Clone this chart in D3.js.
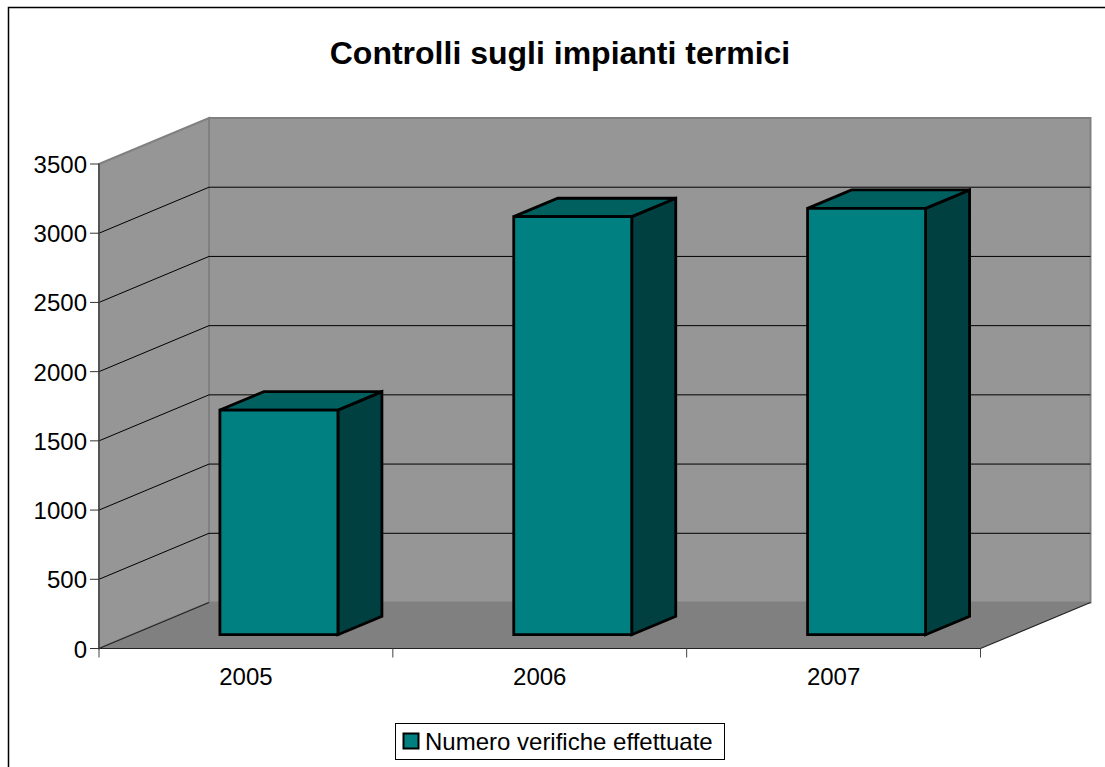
<!DOCTYPE html>
<html><head><meta charset="utf-8">
<script src="https://cdn.jsdelivr.net/npm/d3@7"></script>
<style>html,body{margin:0;padding:0;background:#fff}svg{display:block}text{font-family:"Liberation Sans",Arial,sans-serif;fill:#000}</style>
</head><body><div id="chart"></div>
<script>
const chartTitle = "Controlli sugli impianti termici";
const categories = ["2005", "2006", "2007"];
const seriesName = "Numero verifiche effettuate";
const seriesValues = [1623, 3020, 3080];
const yTicks = [0, 500, 1000, 1500, 2000, 2500, 3000, 3500];

const W = 1105, H = 767;
const svg = d3.select("#chart").append("svg").attr("width", W).attr("height", H);
const x = d3.scaleBand().domain(categories).range([99, 980.5]);
const y = d3.scaleLinear().domain([0, 3500]).range([648.5, 164]);
// depth 0 = front plane, 1 = back wall
const dx = d3.scaleLinear().domain([0, 1]).range([0, 110]);
const dy = d3.scaleLinear().domain([0, 1]).range([0, -46]);
const P = (xv, v, d) => [xv + dx(d), y(v) + dy(d)];
const poly = pts => d3.line()(pts) + "Z";
const xMin = x.range()[0], xMax = x.range()[1], yMax = 3500;

// frame: open at the bottom, cut by the page edge
svg.append("path").attr("d", "M8.5 " + (H + 5) + "V7.5H" + (W + 5)).attr("fill", "none").attr("stroke", "#000").attr("stroke-width", 1.5);

// walls and floor
const g = svg.append("g");
g.append("path").attr("d", poly([P(xMin,0,0),P(xMin,yMax,0),P(xMin,yMax,1),P(xMin,0,1)])).attr("fill", "#969696").attr("stroke", "#808080").attr("stroke-width", 2);
g.append("path").attr("d", poly([P(xMin,0,1),P(xMin,yMax,1),P(xMax,yMax,1),P(xMax,0,1)])).attr("fill", "#969696").attr("stroke", "#808080").attr("stroke-width", 2);
g.append("path").attr("d", poly([P(xMin,0,0),P(xMin,0,1),P(xMax,0,1),P(xMax,0,0)])).attr("fill", "#808080");

// gridlines
yTicks.slice(1, -1).forEach(t => {
  g.append("path").attr("d", d3.line()([P(xMin,t,0),P(xMin,t,1),P(xMax,t,1)])).attr("fill", "none").attr("stroke", "#000").attr("stroke-width", 1);
});

// axes
g.append("path").attr("d", d3.line()([P(xMin,0,1),P(xMin,0,0),P(xMax,0,0),P(xMax,0,1)])).attr("fill","none").attr("stroke","#222").attr("stroke-width",1.2);
g.append("line").attr("x1",xMin).attr("x2",xMin).attr("y1",y(0)).attr("y2",y(yMax)).attr("stroke","#444").attr("stroke-width",1.5);
yTicks.forEach(t => {
  g.append("line").attr("x1", xMin-9).attr("x2", xMin).attr("y1", y(t)).attr("y2", y(t)).attr("stroke", "#333");
  g.append("text").attr("x", xMin-12).attr("y", y(t)+9).attr("text-anchor","end").attr("font-size",24).text(t);
});
const catEdges = categories.map(c => x(c)).concat([xMax]);
catEdges.forEach(e => g.append("line").attr("x1",e).attr("x2",e).attr("y1",y(0)).attr("y2",y(0)+9).attr("stroke","#444"));
categories.forEach(c => g.append("text").attr("x", x(c)+x.bandwidth()/2).attr("y", 685).attr("text-anchor","middle").attr("font-size",24).text(c));

// bars
const bw = 118, d0 = 0.3, d1 = 0.7;
const bars = g.selectAll("g.bar").data(categories.map((c,i)=>({c,v:seriesValues[i]}))).join("g").attr("class","bar")
  .attr("stroke","#000").attr("stroke-width",2.8).attr("stroke-linejoin","miter");
const L = d => x(d.c)+x.bandwidth()/2-bw/2, R = d => L(d)+bw;
bars.append("path").attr("fill","#004040").attr("d", d=>poly([P(R(d),0,d0),P(R(d),d.v,d0),P(R(d),d.v,d1),P(R(d),0,d1)]));
bars.append("path").attr("fill","#006060").attr("d", d=>poly([P(L(d),d.v,d0),P(L(d),d.v,d1),P(R(d),d.v,d1),P(R(d),d.v,d0)]));
bars.append("path").attr("fill","#008080").attr("d", d=>poly([P(L(d),0,d0),P(L(d),d.v,d0),P(R(d),d.v,d0),P(R(d),0,d0)]));

// title
svg.append("text").attr("x",560).attr("y",64).attr("text-anchor","middle").attr("font-size",32).attr("font-weight","bold").text(chartTitle);

// legend
svg.append("rect").attr("x",395.5).attr("y",723.5).attr("width",329).attr("height",36).attr("fill","#fff").attr("stroke","#000").attr("stroke-width",1);
svg.append("rect").attr("x",403.5).attr("y",733.5).attr("width",15).attr("height",15).attr("fill","#008080").attr("stroke","#000").attr("stroke-width",2);
svg.append("text").attr("x",425).attr("y",750).attr("font-size",24).text(seriesName);
</script></body></html>
